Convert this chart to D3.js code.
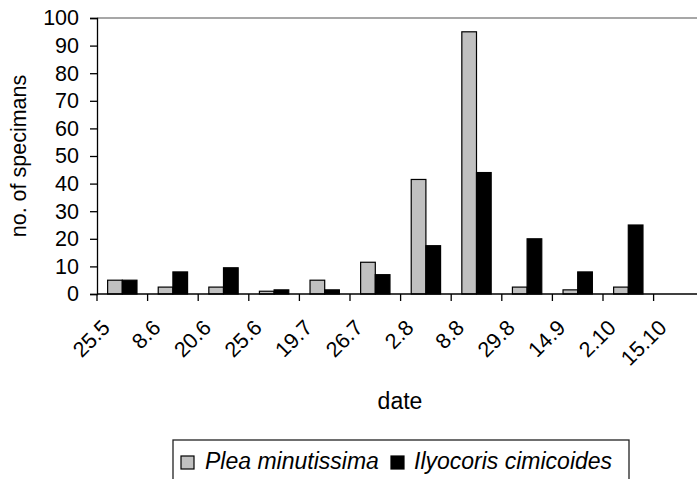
<!DOCTYPE html>
<html>
<head>
<meta charset="utf-8">
<script src="https://cdn.jsdelivr.net/npm/d3@7"></script>
<style>
  html, body { margin: 0; padding: 0; background: #fff; }
  svg { display: block; font-family: "Liberation Sans", Arial, sans-serif; }
</style>
</head>
<body>
<svg id="chart" width="697" height="479"></svg>
<script>
const categories = ["25.5", "8.6", "20.6", "25.6", "19.7", "26.7", "2.8", "8.8", "29.8", "14.9", "2.10", "15.10"];
const seriesNames = ["Plea minutissima", "Ilyocoris cimicoides"];
const pleaValues = [5, 2.5, 2.5, 1, 5, 11.5, 41.5, 95, 2.5, 1.5, 2.5, 0];
const ilyocorisValues = [5, 8, 9.5, 1.5, 1.5, 7, 17.5, 44, 20, 8, 25, 0];
const yTicks = [0, 10, 20, 30, 40, 50, 60, 70, 80, 90, 100];
const seriesColors = ["#c0c0c0", "#000000"];

(function () {
const svg = d3.select("#chart");
svg.append("rect").attr("width", 697).attr("height", 479).attr("fill", "#fff");

const mLeft = 97, mTop = 18, mBottom = 294;
const step = 50.6;
const mRight = mLeft + step * categories.length;

const x = d3.scaleBand().domain(categories).range([mLeft, mRight]).paddingInner(0.42).paddingOuter(0.21);
const xs = d3.scaleBand().domain(seriesNames).range([0, x.bandwidth()]);
const y = d3.scaleLinear().domain([0, 100]).range([mBottom, mTop]);

const data = categories.map((c, i) => ({ cat: c, vals: [pleaValues[i], ilyocorisValues[i]] }));

// top border line (gray)
svg.append("line")
  .attr("x1", mLeft).attr("x2", mRight)
  .attr("y1", y(100)).attr("y2", y(100))
  .attr("stroke", "#8a8a8a").attr("stroke-width", 1.3);

// bars
const g = svg.append("g");
data.forEach(d => {
  d.vals.forEach((v, si) => {
    if (v <= 0) return;
    g.append("rect")
      .attr("x", x(d.cat) + xs(seriesNames[si]))
      .attr("y", y(v))
      .attr("width", xs.bandwidth())
      .attr("height", y(0) - y(v))
      .attr("fill", seriesColors[si])
      .attr("stroke", "#000")
      .attr("stroke-width", 1.2);
  });
});

// y axis
const yAxis = svg.append("g")
  .attr("transform", `translate(${mLeft},0)`)
  .call(d3.axisLeft(y).tickValues(yTicks).tickSize(7).tickPadding(11));
yAxis.select(".domain").attr("stroke", "#000").attr("stroke-width", 1.3);
yAxis.selectAll(".tick line").attr("stroke", "#000").attr("stroke-width", 1.3);
yAxis.selectAll(".tick text")
  .attr("font-size", 21.5).attr("fill", "#000")
  .attr("font-family", "Liberation Sans, Arial, sans-serif");

// x axis line
svg.append("line")
  .attr("x1", mLeft).attr("x2", mRight)
  .attr("y1", mBottom).attr("y2", mBottom)
  .attr("stroke", "#000").attr("stroke-width", 1.3);

// x ticks at category boundaries
svg.append("g").selectAll("line")
  .data(categories)
  .join("line")
  .attr("x1", (c, i) => mLeft + i * x.step())
  .attr("x2", (c, i) => mLeft + i * x.step())
  .attr("y1", mBottom).attr("y2", mBottom + 7)
  .attr("stroke", "#000").attr("stroke-width", 1.3);

// x labels rotated
svg.append("g").selectAll("text")
  .data(categories)
  .join("text")
  .attr("transform", c => `translate(${x(c) + x.bandwidth() / 2 - 11},329) rotate(-45)`)
  .attr("text-anchor", "end")
  .attr("font-size", 21.5)
  .attr("fill", "#000")
  .text(c => c);

// axis titles
svg.append("text")
  .attr("x", 400).attr("y", 409)
  .attr("text-anchor", "middle")
  .attr("font-size", 23)
  .attr("fill", "#000")
  .text("date");

svg.append("text")
  .attr("transform", `translate(26,${(mTop + mBottom) / 2}) rotate(-90)`)
  .attr("text-anchor", "middle")
  .attr("font-size", 21.5)
  .attr("fill", "#000")
  .text("no. of specimans");

// legend
const lg = svg.append("g");
lg.append("rect")
  .attr("x", 173).attr("y", 440).attr("width", 456).attr("height", 60)
  .attr("fill", "#fff").attr("stroke", "#222").attr("stroke-width", 1.3);
const legendItems = [
  { name: seriesNames[0], color: seriesColors[0], sx: 181, tx: 205 },
  { name: seriesNames[1], color: seriesColors[1], sx: 391, tx: 414 }
];
legendItems.forEach(it => {
  lg.append("rect")
    .attr("x", it.sx).attr("y", 456).attr("width", 13).attr("height", 13)
    .attr("fill", it.color).attr("stroke", "#000").attr("stroke-width", 1.2);
  lg.append("text")
    .attr("x", it.tx).attr("y", 469)
    .attr("font-size", 23).attr("font-style", "italic")
    .attr("fill", "#000")
    .text(it.name);
});
})();
</script>
</body>
</html>
